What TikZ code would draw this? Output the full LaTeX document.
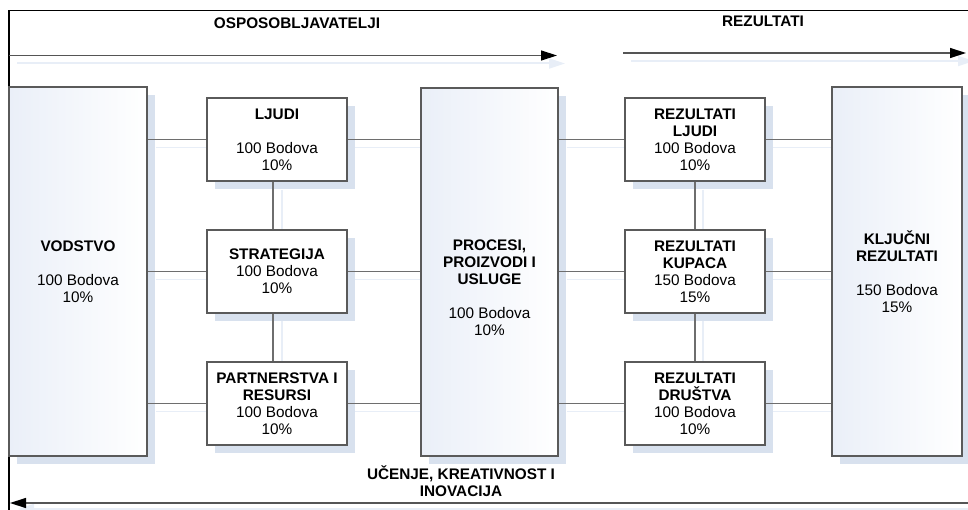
\documentclass[tikz,border=0pt]{standalone}
\usepackage{fontspec}
\setmainfont{Liberation Sans}
\usetikzlibrary{arrows.meta,shadows,calc}
\definecolor{shadowblue}{HTML}{D8E1EE}
\definecolor{faintblue}{HTML}{E8EEF7}
\definecolor{boxline}{HTML}{5A5A5A}
\definecolor{linkgray}{HTML}{6E6E6E}
\definecolor{arrowgray}{HTML}{555555}
\definecolor{panelblue}{HTML}{EAEFF8}
\definecolor{panelmid}{HTML}{F5F7FC}
\newcommand\boxfont{\fontsize{11.5}{12.75}\selectfont}
\pgfdeclarelayer{bg}
\pgfsetlayers{bg,main}

\begin{document}
\begin{tikzpicture}[x=0.75pt,y=-0.75pt,
  every node/.style={font=\boxfont, align=center, inner sep=0pt},
  card/.style={draw=boxline, line width=1pt, fill=white,
    minimum width=105pt, minimum height=62.25pt,
    drop shadow={shadow xshift=6pt,shadow yshift=-6pt,fill=shadowblue,opacity=1}},
  pillar/.style={card, minimum height=276.75pt,
    left color=panelblue, middle color=panelmid, right color=white},
  link/.style={draw=linkgray, line width=1.1pt},
  linkshadow/.style={draw=faintblue, line width=1.1pt},
  flow/.style={draw=arrowgray, line width=1pt,
    -{Triangle[length=12pt,width=7.5pt,color=black]}},
  flowshadow/.style={draw=faintblue, line width=1.5pt,
    -{Triangle[length=12pt,width=7.5pt,color=faintblue]}},
  title/.style={font=\boxfont\bfseries}
]
\useasboundingbox (0,0) rectangle (968,510);

% frame and flow arrows
\coordinate (ftr) at (968,10.5);
\coordinate (ftl) at (9,10.5);
\coordinate (fbl) at (9,510);
\draw[line width=1pt] (ftr) -- (ftl) -- (fbl);

\coordinate (a1s) at (9,55.5);
\coordinate (a1e) at (557,55.5);
\coordinate (a2s) at (623,53);
\coordinate (a2e) at (966,53);
\coordinate (a3s) at (968,503);
\coordinate (a3e) at (10,503);
\draw[flow] (a1s) -- (a1e);
\draw[flow] (a2s) -- (a2e);
\draw[flow] (a3s) -- (a3e);

% headings
\node[title] (t1) at (297,23) {OSPOSOBLJAVATELJI};
\node[title] (t2) at (763,21) {REZULTATI};
\node[title] (t3) at (461,481.5) {UČENJE, KREATIVNOST I\\INOVACIJA};

% enablers
\node[pillar, minimum width=103.5pt] (vodstvo) at (78,271.5)
  {\textbf{VODSTVO}\\[12.75pt]100 Bodova\\10\%};
\node[card] (ljudi) at (277,139.5)
  {\textbf{LJUDI}\\[12.75pt]100 Bodova\\10\%};
\node[card] (strat) at (277,271.5)
  {\textbf{STRATEGIJA}\\100 Bodova\\10\%};
\node[card] (partn) at (277,403.5)
  {\textbf{PARTNERSTVA I}\\\textbf{RESURSI}\\100 Bodova\\10\%};
\node[pillar, minimum width=102.75pt, minimum height=276pt] (procesi) at (489.5,272) {};
\node (procesitxt) at (489.5,288)
  {\textbf{PROCESI,}\\\textbf{PROIZVODI I}\\\textbf{USLUGE}\\[12.75pt]100 Bodova\\10\%};

% results
\node[card] (rljudi) at (695,139.5)
  {\textbf{REZULTATI}\\\textbf{LJUDI}\\100 Bodova\\10\%};
\node[card] (rkupaca) at (695,271.5)
  {\textbf{REZULTATI}\\\textbf{KUPACA}\\150 Bodova\\15\%};
\node[card] (rdrustva) at (695,403.5)
  {\textbf{REZULTATI}\\\textbf{DRUŠTVA}\\100 Bodova\\10\%};
\node[pillar, minimum width=97.5pt] (kljucni) at (897,271.5)
  {\textbf{KLJUČNI}\\\textbf{REZULTATI}\\[12.75pt]150 Bodova\\15\%};

% connectors
\foreach \m in {ljudi,strat,partn}{
  \draw[link] (vodstvo.east |- \m.west) -- (\m.west);
  \draw[link] (\m.east) -- (procesi.west |- \m.east);
}
\foreach \r in {rljudi,rkupaca,rdrustva}{
  \draw[link] (procesi.east |- \r.west) -- (\r.west);
  \draw[link] (\r.east) -- (kljucni.west |- \r.east);
}
\draw[link] ([xshift=-3pt]ljudi.south) -- ([xshift=-3pt]strat.north);
\draw[link] ([xshift=-3pt]strat.south) -- ([xshift=-3pt]partn.north);
\draw[link] (rljudi.south) -- (rkupaca.north);
\draw[link] (rkupaca.south) -- (rdrustva.north);

% soft shadows under the connectors and arrows
\begin{pgfonlayer}{bg}
  \foreach \m in {ljudi,strat,partn}{
    \draw[linkshadow] ([shift={(8,8)}]vodstvo.east |- \m.west) -- ([shift={(8,8)}]procesi.west |- \m.east);
  }
  \foreach \r in {rljudi,rkupaca,rdrustva}{
    \draw[linkshadow] ([shift={(8,8)}]procesi.east |- \r.west) -- ([shift={(8,8)}]kljucni.west |- \r.east);
  }
  \draw[linkshadow] ([shift={(5,8)}]ljudi.south) -- ([shift={(5,8)}]partn.north);
  \draw[linkshadow] ([shift={(8,8)}]rljudi.south) -- ([shift={(8,8)}]rdrustva.north);
  \draw[flowshadow] ([shift={(8,8)}]a1s) -- ([shift={(8,8)}]a1e);
  \draw[flowshadow] ([shift={(8,8)}]a2s) -- ([shift={(8,8)}]a2e);
  \draw[flowshadow] ([shift={(8,6)}]a3s) -- ([shift={(8,6)}]a3e);
\end{pgfonlayer}
\end{tikzpicture}
\end{document}
